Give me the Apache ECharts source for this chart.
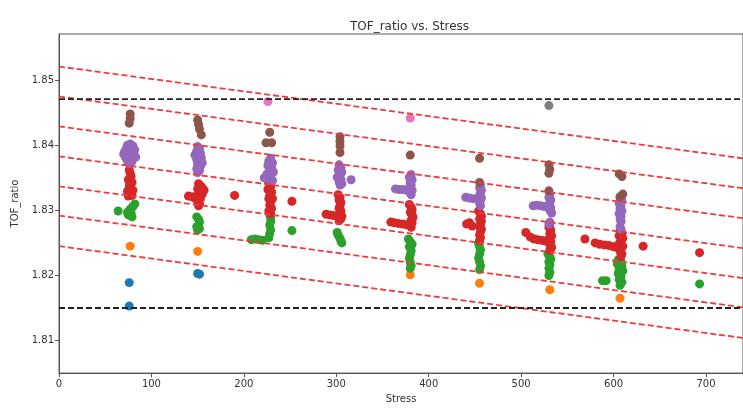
<!DOCTYPE html>
<html>
<head>
<meta charset="utf-8">
<title>TOF_ratio vs. Stress</title>
<script src="https://cdn.jsdelivr.net/npm/echarts@6/dist/echarts.min.js"></script>
<style>
  html, body { margin: 0; padding: 0; background: #fff; }
  #chart { width: 743px; height: 409px; }
</style>
</head>
<body>
<div id="chart"></div>
<script>
// 坐标轴刻度
var xTicks = [0, 100, 200, 300, 400, 500, 600, 700];
var yTicks = [1.81, 1.82, 1.83, 1.84, 1.85];

// 上下限（黑色虚线）
var limitY = [1.8471, 1.8150];

// 红色虚线：Stress=0 与 Stress=740 处的值
var bandStartY = [1.8521, 1.8475, 1.8429, 1.8383, 1.8337, 1.8292, 1.8245];
var bandEndY = [1.8380, 1.8334, 1.8288, 1.8242, 1.8196, 1.8151, 1.8104];
var bandX = [0, 740];

// 散点 [Stress, TOF_ratio]
var blueData = [[76, 1.8189], [76, 1.8153], [150, 1.8203], [152, 1.8202]];
var orangeData = [[77, 1.8245], [150, 1.8237], [380, 1.8201], [455, 1.8188], [531, 1.8178], [607, 1.8165]];
var greenData = [
  [64, 1.8299], [74, 1.8297], [75, 1.8293], [77, 1.8302], [78, 1.8296], [80, 1.8306], [82, 1.8310], [79, 1.8290],
  [149, 1.8290], [151, 1.8286], [152, 1.8282], [149, 1.8275], [150, 1.8270], [152, 1.8272],
  [208, 1.8255], [212, 1.8256], [216, 1.8255], [220, 1.8254], [227, 1.8258], [228, 1.8264], [229, 1.8270],
  [228, 1.8277], [229, 1.8283], [229, 1.8289], [228, 1.8293],
  [252, 1.8269],
  [301, 1.8266], [302, 1.8262], [304, 1.8257], [305, 1.8253], [306, 1.8250],
  [378, 1.8256], [380, 1.8252], [382, 1.8248], [379, 1.8244], [381, 1.8238], [380, 1.8232], [379, 1.8226],
  [380, 1.8220], [381, 1.8215], [380, 1.8211],
  [454, 1.8249], [455, 1.8244], [456, 1.8239], [455, 1.8233], [454, 1.8227], [455, 1.8221], [456, 1.8215], [455, 1.8209],
  [529, 1.8233], [531, 1.8229], [532, 1.8225], [530, 1.8221], [531, 1.8216], [530, 1.8211], [531, 1.8205], [530, 1.8200],
  [605, 1.8224], [608, 1.8222], [604, 1.8218], [609, 1.8215], [606, 1.8211], [610, 1.8207], [605, 1.8203],
  [608, 1.8199], [606, 1.8194], [609, 1.8190], [607, 1.8185], [588, 1.8192], [592, 1.8192],
  [693, 1.8187]
];
var redData = [
  [76, 1.8362], [77, 1.8357], [78, 1.8352], [75, 1.8347], [79, 1.8343], [76, 1.8338], [78, 1.8333], [74, 1.8329],
  [80, 1.8331], [77, 1.8326], [75, 1.8322], [79, 1.8323],
  [151, 1.8341], [153, 1.8338], [155, 1.8335], [150, 1.8333], [157, 1.8331], [152, 1.8328], [155, 1.8325],
  [149, 1.8322], [153, 1.8318], [150, 1.8314], [152, 1.8310], [151, 1.8307], [140, 1.8322], [144, 1.8321], [147, 1.8319],
  [190, 1.8323],
  [227, 1.8342], [229, 1.8337], [226, 1.8332], [230, 1.8328], [228, 1.8323], [227, 1.8318], [229, 1.8313],
  [228, 1.8308], [230, 1.8303], [227, 1.8299], [229, 1.8295], [231, 1.8318],
  [252, 1.8314],
  [302, 1.8324], [304, 1.8320], [303, 1.8316], [305, 1.8312], [304, 1.8307], [303, 1.8303], [305, 1.8299],
  [304, 1.8295], [306, 1.8291], [305, 1.8287], [303, 1.8284], [289, 1.8294], [293, 1.8293], [297, 1.8292],
  [379, 1.8309], [381, 1.8305], [382, 1.8301], [380, 1.8297], [382, 1.8293], [383, 1.8289], [381, 1.8285],
  [382, 1.8281], [380, 1.8277], [381, 1.8274], [359, 1.8282], [363, 1.8281], [367, 1.8280], [372, 1.8279], [376, 1.8278],
  [454, 1.8299], [456, 1.8295], [457, 1.8291], [455, 1.8287], [457, 1.8283], [456, 1.8279], [455, 1.8275],
  [457, 1.8271], [456, 1.8267], [455, 1.8262], [456, 1.8258], [455, 1.8254], [441, 1.8279], [444, 1.8281], [447, 1.8276],
  [531, 1.8279], [530, 1.8274], [532, 1.8270], [531, 1.8265], [533, 1.8261], [530, 1.8256], [532, 1.8252],
  [531, 1.8247], [533, 1.8243], [531, 1.8239], [505, 1.8266], [510, 1.8259], [514, 1.8256], [518, 1.8255],
  [522, 1.8254], [526, 1.8253],
  [569, 1.8256],
  [607, 1.8269], [609, 1.8265], [606, 1.8261], [610, 1.8257], [608, 1.8253], [606, 1.8249], [610, 1.8245],
  [608, 1.8241], [607, 1.8237], [609, 1.8233], [608, 1.8229], [580, 1.8250], [585, 1.8248], [590, 1.8247],
  [595, 1.8246], [600, 1.8244], [604, 1.8243],
  [632, 1.8245], [693, 1.8235]
];
var purpleData = [
  [74, 1.8400], [77, 1.8402], [80, 1.8399], [73, 1.8395], [78, 1.8396], [82, 1.8393], [71, 1.8390], [76, 1.8391],
  [81, 1.8388], [70, 1.8386], [75, 1.8385], [80, 1.8384], [72, 1.8381], [77, 1.8380], [83, 1.8382], [74, 1.8376],
  [79, 1.8375], [76, 1.8372],
  [150, 1.8398], [152, 1.8395], [149, 1.8391], [153, 1.8388], [150, 1.8384], [154, 1.8381], [149, 1.8378],
  [152, 1.8375], [150, 1.8371], [153, 1.8368], [149, 1.8364], [152, 1.8361], [150, 1.8358], [147, 1.8385], [155, 1.8373],
  [229, 1.8380], [227, 1.8376], [231, 1.8373], [226, 1.8369], [230, 1.8366], [228, 1.8362], [232, 1.8359],
  [225, 1.8356], [229, 1.8353], [222, 1.8350], [227, 1.8348], [231, 1.8346],
  [303, 1.8370], [305, 1.8366], [302, 1.8362], [306, 1.8359], [304, 1.8355], [301, 1.8351], [305, 1.8348],
  [303, 1.8344], [306, 1.8341], [304, 1.8339], [316, 1.8347],
  [381, 1.8355], [379, 1.8351], [382, 1.8347], [380, 1.8343], [381, 1.8339], [379, 1.8335], [382, 1.8331],
  [380, 1.8327], [381, 1.8324], [364, 1.8333], [368, 1.8332], [372, 1.8332], [376, 1.8331],
  [456, 1.8339], [455, 1.8335], [457, 1.8331], [456, 1.8327], [455, 1.8323], [457, 1.8319], [456, 1.8315],
  [455, 1.8311], [456, 1.8307], [440, 1.8320], [444, 1.8319], [448, 1.8318],
  [531, 1.8324], [530, 1.8320], [532, 1.8316], [531, 1.8312], [530, 1.8308], [532, 1.8304], [531, 1.8300],
  [533, 1.8296], [531, 1.8282], [530, 1.8279], [513, 1.8307], [517, 1.8308], [521, 1.8307], [525, 1.8306],
  [607, 1.8319], [609, 1.8315], [606, 1.8311], [608, 1.8307], [607, 1.8303], [609, 1.8299], [606, 1.8295],
  [608, 1.8291], [607, 1.8287], [608, 1.8283], [607, 1.8275], [608, 1.8271]
];
var brownData = [
  [77, 1.8448], [77, 1.8441], [76, 1.8434],
  [150, 1.8439], [151, 1.8432], [152, 1.8425], [154, 1.8416],
  [228, 1.8420], [224, 1.8404], [230, 1.8404],
  [304, 1.8413], [304, 1.8406], [304, 1.8399], [304, 1.8389],
  [380, 1.8385],
  [455, 1.8380], [455, 1.8343],
  [530, 1.8370], [531, 1.8363], [530, 1.8357], [530, 1.8330],
  [606, 1.8356], [609, 1.8352], [610, 1.8325], [607, 1.8321]
];
var pinkData = [[226, 1.8467], [380, 1.8442]];
var grayData = [[530, 1.8461]];

var groups = [
  { name: '0', color: '#1f77b4', data: blueData },
  { name: '1', color: '#ff7f0e', data: orangeData },
  { name: '2', color: '#2ca02c', data: greenData },
  { name: '3', color: '#d62728', data: redData },
  { name: '4', color: '#9467bd', data: purpleData },
  { name: '5', color: '#8c564b', data: brownData },
  { name: '6', color: '#e377c2', data: pinkData },
  { name: '7', color: '#7f7f7f', data: grayData }
];

var series = [];
groups.forEach(function (g) {
  series.push({
    name: g.name,
    type: 'scatter',
    data: g.data,
    symbolSize: 9,
    itemStyle: { color: g.color, opacity: 1 },
    z: 2
  });
});

// 红色虚线
for (var i = 0; i < bandStartY.length; i++) {
  series.push({
    type: 'line',
    data: [[bandX[0], bandStartY[i]], [bandX[1], bandEndY[i]]],
    showSymbol: false,
    silent: true,
    lineStyle: { color: '#ee3b3b', width: 1.8, type: [6, 3] },
    z: 3
  });
}
// 黑色虚线
limitY.forEach(function (v) {
  series.push({
    type: 'line',
    data: [[bandX[0], v], [bandX[1], v]],
    showSymbol: false,
    silent: true,
    lineStyle: { color: '#222', width: 1.8, type: [6, 3] },
    z: 3
  });
});

var axisText = { color: '#333', fontSize: 10, fontFamily: 'DejaVu Sans' };

var myChart = echarts.init(document.getElementById('chart'));
var option = {
  animation: false,
  backgroundColor: '#fff',
  title: {
    text: 'TOF_ratio vs. Stress',
    left: 345,
    top: 16,
    textStyle: { color: '#333', fontSize: 12, fontWeight: 'normal', fontFamily: 'DejaVu Sans' }
  },
  grid: {
    left: 59, top: 34, right: -1, bottom: 31,
    show: true, borderColor: '#555', borderWidth: 1
  },
  xAxis: {
    type: 'value',
    min: 0, max: 740,
    name: 'Stress', nameLocation: 'middle', nameGap: 20,
    nameTextStyle: axisText,
    splitLine: { show: false },
    axisLine: { lineStyle: { color: '#555' } },
    axisTick: { show: true, length: 4, customValues: xTicks, lineStyle: { color: '#555' } },
    axisLabel: Object.assign({ margin: 6, customValues: xTicks }, axisText)
  },
  yAxis: {
    type: 'value',
    min: 1.805, max: 1.8571,
    name: 'TOF_ratio', nameLocation: 'middle', nameGap: 38,
    nameTextStyle: axisText,
    splitLine: { show: false },
    axisLine: { show: true, lineStyle: { color: '#555' } },
    axisTick: { show: true, length: 4, customValues: yTicks, lineStyle: { color: '#555' } },
    axisLabel: Object.assign({
      margin: 5,
      customValues: yTicks,
      formatter: function (v) { return v.toFixed(2); }
    }, axisText)
  },
  series: series
};
myChart.setOption(option);
</script>
</body>
</html>
